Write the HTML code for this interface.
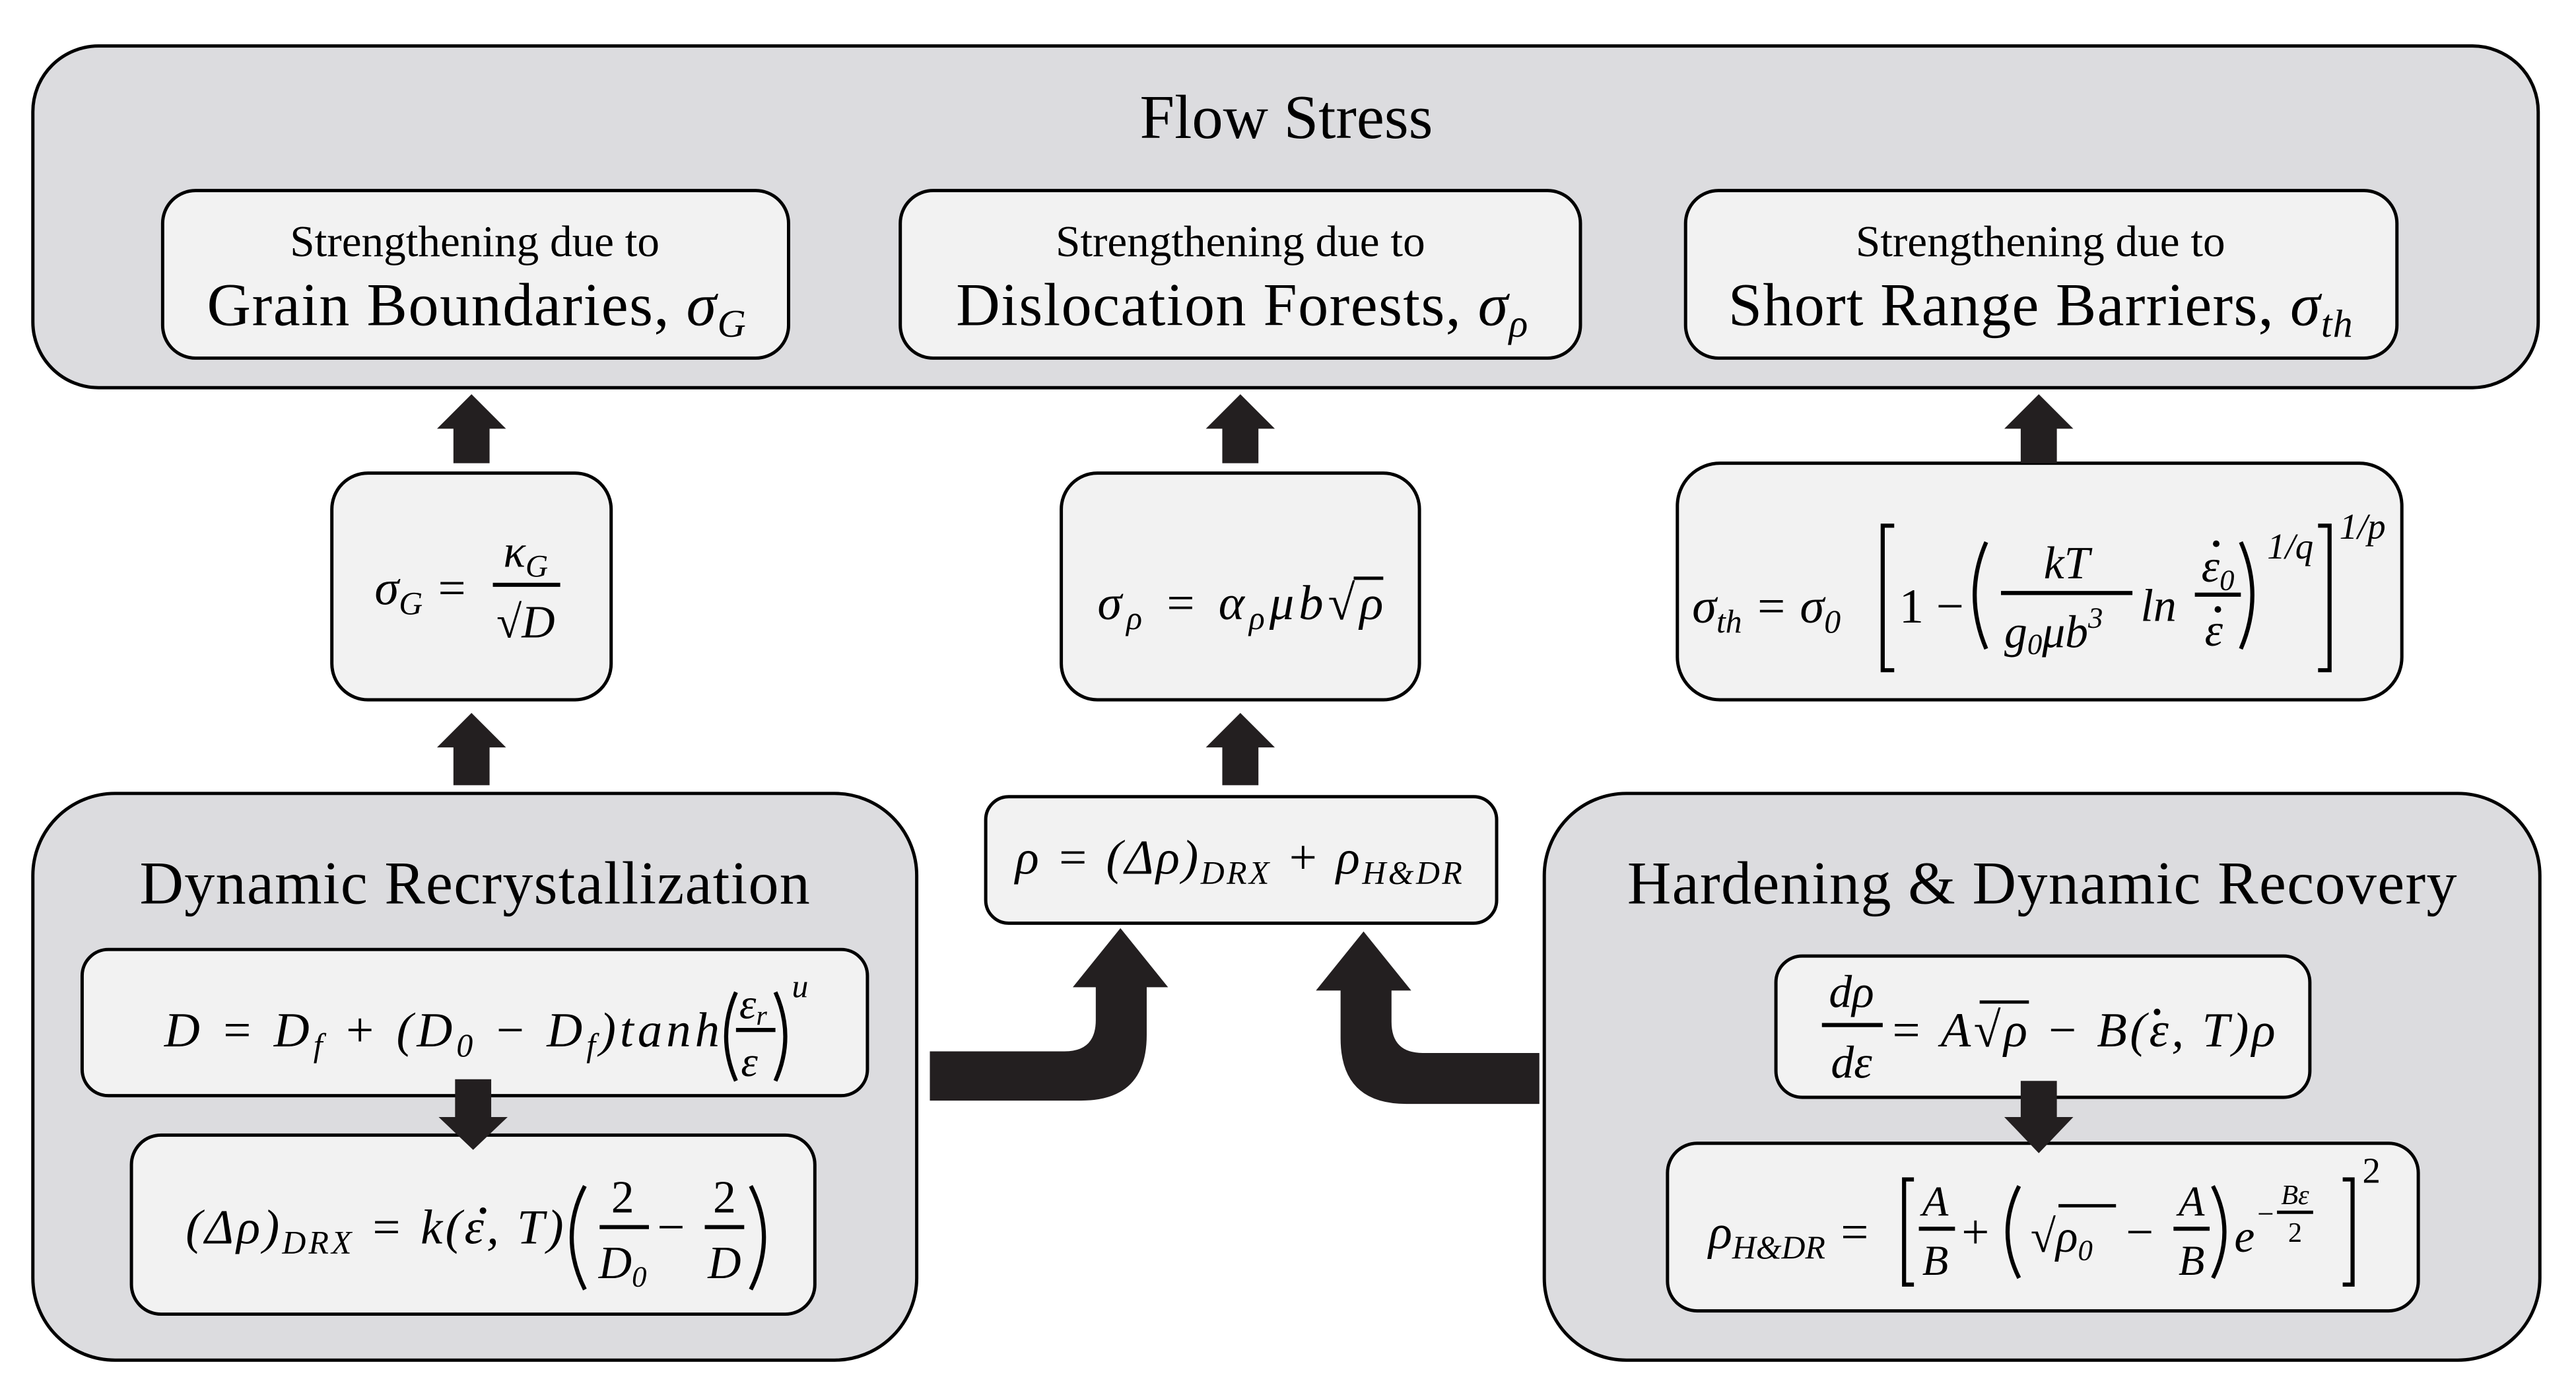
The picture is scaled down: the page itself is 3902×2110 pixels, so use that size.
<!DOCTYPE html>
<html><head><meta charset="utf-8"><style>
html,body{margin:0;padding:0;background:#fff;}
svg{display:block;}
.t{font-family:"Liberation Serif",serif;fill:#000;}
.m{font-family:"Liberation Serif",serif;font-style:italic;fill:#000;}
.u{font-family:"Liberation Serif",serif;fill:#000;}
.p{fill:none;stroke:#000;stroke-width:2.5;}
</style></head><body>
<svg width="3902" height="2110" viewBox="0 0 1568 848" preserveAspectRatio="none" xmlns="http://www.w3.org/2000/svg">
<g stroke="#000" stroke-width="2">
<rect x="20" y="28" width="1525" height="208" rx="40" fill="#dcdcdf"/>
<rect x="99" y="116" width="381" height="102" rx="20" fill="#f2f2f2"/>
<rect x="548" y="116" width="414" height="102" rx="20" fill="#f2f2f2"/>
<rect x="1026" y="116" width="433" height="102" rx="20" fill="#f2f2f2"/>
<rect x="202" y="288" width="170" height="138" rx="22" fill="#f2f2f2"/>
<rect x="646" y="288" width="218" height="138" rx="22" fill="#f2f2f2"/>
<rect x="1021" y="282" width="441" height="144" rx="26" fill="#f2f2f2"/>
<rect x="20" y="483" width="538" height="345" rx="50" fill="#dcdcdf"/>
<rect x="50" y="578" width="478" height="89" rx="16" fill="#f2f2f2"/>
<rect x="80" y="691" width="416" height="109" rx="18" fill="#f2f2f2"/>
<rect x="600" y="485" width="311" height="77" rx="14" fill="#f2f2f2"/>
<rect x="940" y="483" width="606" height="345" rx="50" fill="#dcdcdf"/>
<rect x="1081" y="582" width="325" height="86" rx="16" fill="#f2f2f2"/>
<rect x="1015" y="696" width="457" height="102" rx="18" fill="#f2f2f2"/>
</g>
<g fill="#231f20">
<polygon points="266,261 287,240 308,261 298,261 298,282 276,282 276,261"/>
<polygon points="734,261 755,240 776,261 766,261 766,282 744,282 744,261"/>
<polygon points="1220,261 1241,240 1262,261 1252,261 1252,282 1230,282 1230,261"/>
<polygon points="266,455 287,434 308,455 298,455 298,478 276,478 276,455"/>
<polygon points="734,455 755,434 776,455 766,455 766,478 744,478 744,455"/>
<polygon points="267,680 288,700 309,680 299,680 299,657 277,657 277,680"/>
<polygon points="1220,680 1241,702 1262,680 1252,680 1252,658 1230,658 1230,680"/>
<path d="M566,640 L648,640 Q667,640 667,621 L667,601 L653,601 L682,565 L711,601 L698,601 L698,630 Q698,670 658,670 L566,670 Z"/>
<path d="M937,641 L866,641 Q847,641 847,622 L847,603 L859,603 L830,567 L801,603 L816,603 L816,632 Q816,672 856,672 L937,672 Z"/>
</g>
<text class="t" x="783" y="84" font-size="38" text-anchor="middle">Flow Stress</text>
<text class="t" x="289" y="156" font-size="27" text-anchor="middle">Strengthening due to</text>
<text class="t" x="290" y="198" font-size="37" text-anchor="middle" textLength="328">Grain Boundaries, <tspan class="m">σ</tspan><tspan class="m" font-size="24" dy="7">G</tspan></text>
<text class="t" x="755" y="156" font-size="27" text-anchor="middle">Strengthening due to</text>
<text class="t" x="756" y="198" font-size="37" text-anchor="middle" textLength="348">Dislocation Forests, <tspan class="m">σ</tspan><tspan class="m" font-size="24" dy="7">ρ</tspan></text>
<text class="t" x="1242" y="156" font-size="27" text-anchor="middle">Strengthening due to</text>
<text class="t" x="1242" y="198" font-size="37" text-anchor="middle" textLength="380">Short Range Barriers, <tspan class="m">σ</tspan><tspan class="m" font-size="24" dy="7">th</tspan></text>
<text class="t" x="289" y="550" font-size="37" text-anchor="middle" textLength="408">Dynamic Recrystallization</text>
<text class="t" x="1243" y="550" font-size="37" text-anchor="middle" textLength="505">Hardening &amp; Dynamic Recovery</text>
<text class="m" x="228" y="368" font-size="30">σ<tspan font-size="20" dy="6">G</tspan><tspan class="u" dy="-6"> =</tspan></text>
<text class="m" x="320" y="345" font-size="28" text-anchor="middle">κ<tspan font-size="19" dy="6">G</tspan></text>
<line x1="300" y1="356" x2="341" y2="356" stroke="#000" stroke-width="2.5"/>
<text class="m" x="320" y="388" font-size="28" text-anchor="middle"><tspan class="u">√</tspan>D</text>
<text class="m" x="668" y="377" font-size="30" textLength="174">σ<tspan font-size="20" dy="6">ρ</tspan><tspan class="u" dy="-6"> = </tspan>α<tspan font-size="20" dy="6">ρ</tspan><tspan dy="-6">μb</tspan><tspan class="u">√</tspan>ρ</text>
<line x1="824" y1="352" x2="842" y2="352" stroke="#000" stroke-width="2"/>
<text class="m" x="1030" y="379" font-size="30">σ<tspan font-size="20" dy="6">th</tspan><tspan class="u" dy="-6"> = </tspan>σ<tspan class="u" font-size="20" dy="6">0</tspan></text>
<path class="p" d="M1153,320 L1146,320 L1146,408 L1153,408"/>
<text class="u" x="1156" y="379" font-size="30">1 −</text>
<path class="p" d="M1209,330 Q1195,362 1209,395"/>
<text class="m" x="1258" y="352" font-size="28" text-anchor="middle">kT</text>
<line x1="1218" y1="361" x2="1298" y2="361" stroke="#000" stroke-width="2.5"/>
<text class="m" x="1220" y="394" font-size="28">g<tspan class="u" font-size="18" dy="4">0</tspan><tspan dy="-4">μb</tspan><tspan class="u" font-size="18" dy="-12">3</tspan></text>
<text class="m" x="1303" y="378" font-size="28">ln</text>
<text class="m" x="1340" y="354" font-size="28">ε<tspan class="u" font-size="18" dy="5">0</tspan></text>
<circle cx="1349" cy="331" r="2" fill="#000"/>
<line x1="1336" y1="362" x2="1364" y2="362" stroke="#000" stroke-width="2.5"/>
<text class="m" x="1342" y="393" font-size="28">ε</text>
<circle cx="1350" cy="371" r="2" fill="#000"/>
<path class="p" d="M1364,330 Q1378,362 1364,395"/>
<text class="m" x="1380" y="340" font-size="22">1/q</text>
<path class="p" d="M1411,320 L1418,320 L1418,408 L1411,408"/>
<text class="m" x="1424" y="328" font-size="22">1/p</text>
<text class="m" x="100" y="637" font-size="30" textLength="338">D <tspan class="u">=</tspan> D<tspan font-size="20" dy="6">f</tspan><tspan class="u" dy="-6"> + (</tspan>D<tspan class="u" font-size="20" dy="6">0</tspan><tspan class="u" dy="-6"> − </tspan>D<tspan font-size="20" dy="6">f</tspan><tspan class="u" dy="-6">)</tspan>tanh</text>
<path class="p" d="M448,604 Q436,631 448,658"/>
<text class="m" x="450" y="620" font-size="26">ε<tspan font-size="17" dy="4">r</tspan></text>
<line x1="448" y1="627" x2="472" y2="627" stroke="#000" stroke-width="2.5"/>
<text class="m" x="451" y="655" font-size="26">ε</text>
<path class="p" d="M472,604 Q484,631 472,658"/>
<text class="m" x="482" y="607" font-size="20">u</text>
<text class="m" x="113" y="757" font-size="30" textLength="230"><tspan class="u">(Δ</tspan>ρ<tspan class="u">)</tspan><tspan font-size="20" dy="6">DRX</tspan><tspan class="u" dy="-6"> = </tspan>k<tspan class="u">(</tspan>ε<tspan class="u">, </tspan>T<tspan class="u">)</tspan></text>
<circle cx="294" cy="737" r="2" fill="#000"/>
<path class="p" d="M356,722 Q340,753 356,785"/>
<text class="u" x="379" y="738" font-size="28" text-anchor="middle">2</text>
<line x1="365" y1="747" x2="395" y2="747" stroke="#000" stroke-width="2.5"/>
<text class="m" x="379" y="778" font-size="28" text-anchor="middle">D<tspan class="u" font-size="18" dy="5">0</tspan></text>
<text class="u" x="400" y="757" font-size="30">−</text>
<text class="u" x="441" y="738" font-size="28" text-anchor="middle">2</text>
<line x1="429" y1="747" x2="453" y2="747" stroke="#000" stroke-width="2.5"/>
<text class="m" x="441" y="778" font-size="28" text-anchor="middle">D</text>
<path class="p" d="M457,722 Q473,753 457,785"/>
<text class="m" x="618" y="532" font-size="30" textLength="272">ρ <tspan class="u">= (Δ</tspan>ρ<tspan class="u">)</tspan><tspan font-size="20" dy="6">DRX</tspan><tspan class="u" dy="-6"> + </tspan>ρ<tspan font-size="20" dy="6">H&amp;DR</tspan></text>
<text class="m" x="1127" y="613" font-size="28" text-anchor="middle">dρ</text>
<line x1="1109" y1="624" x2="1146" y2="624" stroke="#000" stroke-width="2.5"/>
<text class="m" x="1127" y="656" font-size="28" text-anchor="middle">dε</text>
<text class="m" x="1150" y="637" font-size="30" textLength="235"><tspan class="u">= </tspan>A<tspan class="u">√</tspan>ρ<tspan class="u"> − </tspan>B<tspan class="u">(</tspan>ε<tspan class="u">, </tspan>T<tspan class="u">)</tspan>ρ</text>
<line x1="1205" y1="610" x2="1235" y2="610" stroke="#000" stroke-width="2"/>
<circle cx="1313" cy="616" r="2" fill="#000"/>
<text class="m" x="1040" y="760" font-size="30">ρ<tspan font-size="20" dy="6">H&amp;DR</tspan><tspan class="u" dy="-6"> =</tspan></text>
<path class="p" d="M1165,718 L1159,718 L1159,782 L1165,782"/>
<text class="m" x="1178" y="740" font-size="26" text-anchor="middle">A</text>
<line x1="1168" y1="748" x2="1190" y2="748" stroke="#000" stroke-width="2.5"/>
<text class="m" x="1178" y="776" font-size="26" text-anchor="middle">B</text>
<text class="u" x="1194" y="760" font-size="30">+</text>
<path class="p" d="M1229,722 Q1215,750 1229,778"/>
<text class="m" x="1236" y="762" font-size="28"><tspan class="u">√</tspan>ρ<tspan class="u" font-size="18" dy="5">0</tspan></text>
<line x1="1253" y1="734" x2="1288" y2="734" stroke="#000" stroke-width="2"/>
<text class="u" x="1294" y="760" font-size="30">−</text>
<text class="m" x="1334" y="740" font-size="26" text-anchor="middle">A</text>
<text class="m" x="1334" y="776" font-size="26" text-anchor="middle">B</text>
<line x1="1323" y1="748" x2="1345" y2="748" stroke="#000" stroke-width="2.5"/>
<path class="p" d="M1347,722 Q1361,750 1347,778"/>
<text class="m" x="1360" y="762" font-size="28">e</text>
<text class="u" x="1374" y="745" font-size="18">−</text>
<text class="m" x="1397" y="733" font-size="17" text-anchor="middle">Bε</text>
<line x1="1386" y1="738" x2="1408" y2="738" stroke="#000" stroke-width="2"/>
<text class="u" x="1397" y="756" font-size="17" text-anchor="middle">2</text>
<path class="p" d="M1426,718 L1432,718 L1432,782 L1426,782"/>
<text class="u" x="1438" y="720" font-size="22">2</text>
</svg>
</body></html>
